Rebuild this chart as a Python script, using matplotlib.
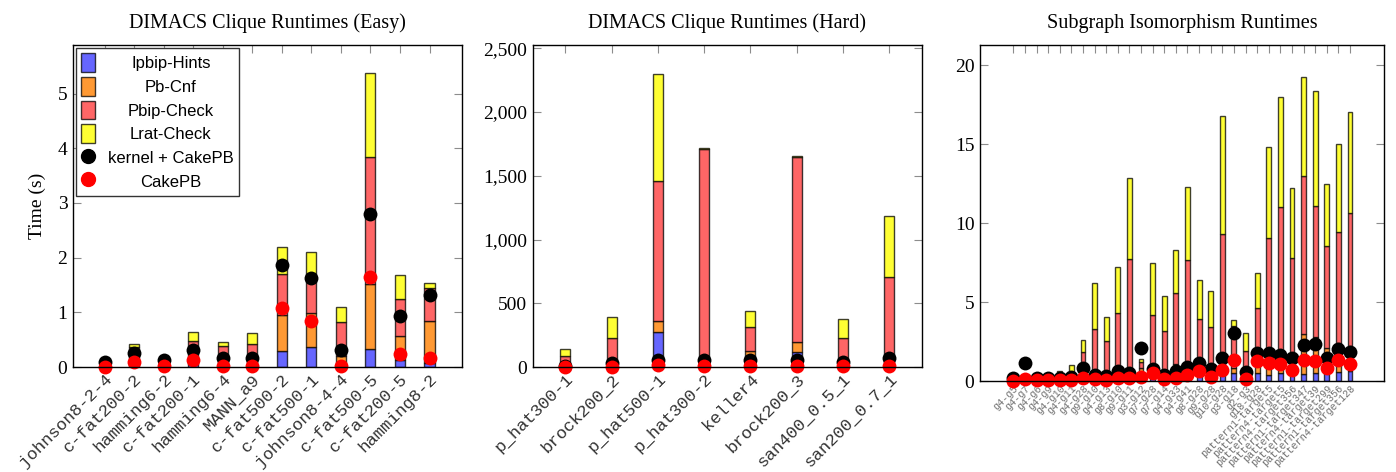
import matplotlib
matplotlib.use("Agg")
import matplotlib.pyplot as plt
import numpy as np
from matplotlib.lines import Line2D
from matplotlib.patches import Patch
from matplotlib.ticker import FuncFormatter

# ---------------- data ----------------
easy_names = ["johnson8-2-4", "c-fat200-2", "hamming6-2", "c-fat200-1", "hamming6-4", "MANN_a9",
              "c-fat500-2", "c-fat500-1", "johnson8-4-4", "c-fat500-5", "c-fat200-5", "hamming8-2"]
easy_hints = [0.005, 0.03, 0.005, 0.05, 0.02, 0.03, 0.29, 0.37, 0.02, 0.335, 0.13, 0.08]
easy_pbcnf = [0.005, 0.06, 0.005, 0.08, 0.05, 0.06, 0.667, 0.61, 0.18, 1.185, 0.43, 0.76]
easy_pbip = [0.01, 0.27, 0.01, 0.35, 0.31, 0.33, 0.743, 0.71, 0.62, 2.33, 0.68, 0.60]
easy_lrat = [0.01, 0.06, 0.01, 0.16, 0.08, 0.20, 0.495, 0.41, 0.27, 1.52, 0.45, 0.09]
easy_kernel = [0.09, 0.26, 0.12, 0.32, 0.16, 0.17, 1.87, 1.62, 0.32, 2.80, 0.94, 1.32]
easy_cake = [0.0, 0.10, 0.01, 0.13, 0.01, 0.01, 1.08, 0.85, 0.02, 1.64, 0.24, 0.17]

hard_names = ["p_hat300-1", "brock200_2", "p_hat500-1", "p_hat300-2", "keller4", "brock200_3",
              "san400_0.5_1", "san200_0.7_1"]
hard_hints = [3, 5, 277, 30, 78, 120, 5, 10]
hard_pbcnf = [3, 5, 86, 40, 50, 76, 5, 10]
hard_pbip = [78, 220, 1097, 1641, 188, 1455, 220, 683]
hard_lrat = [57, 162, 841, 4, 120, 4, 146, 483]
hard_kernel = [8, 28, 55, 55, 52, 55, 42, 68]
hard_cake = [2, 3, 15, 5, 5, 8, 4, 4]

sub_names = ["g4-g5", "g4-g7", "g4-g6", "g4-g9", "g4-g10", "g4-g11", "g4-g28", "g9-g10", "g4-g13",
             "g8-g10", "g9-g11", "g3-g12", "g7-g28", "g7-g14", "g4-g33", "g4-g41", "g8-g28", "g9-g28",
             "g10-g28", "g3-g18", "g2-g3", "g18-g28", "pattern1-target5", "pattern4-target5",
             "pattern4-target356", "pattern1-target347", "pattern4-target39", "pattern1-target299",
             "pattern1-target356", "pattern4-target128"]
sub_hints = [0.01, 0.01, 0.01, 0.01, 0.05, 0.08, 0.1, 0.1, 0.1, 0.15, 0.15, 0.6, 0.2, 0.1, 0.3,
             0.25, 0.3, 0.3, 0.4, 0.53, 0.1, 0.5, 0.35, 0.5, 0.4, 0.45, 0.5, 0.5, 0.6, 0.65]
sub_pbcnf = [0.01, 0.01, 0.01, 0.01, 0.05, 0.1, 0.2, 0.2, 0.2, 0.3, 0.3, 0.25, 0.4, 0.2, 0.8,
             0.6, 0.7, 0.4, 0.6, 0.3, 0.3, 0.9, 0.5, 1.0, 0.8, 2.52, 2.3, 1.57, 1.8, 1.55]
sub_pbip = [0.02, 0.02, 0.02, 0.02, 0.40, 0.42, 1.51, 2.99, 2.21, 3.83, 7.25, 0.37, 3.58, 2.89,
            4.49, 6.79, 2.95, 2.74, 8.28, 2.65, 1.52, 3.2, 8.18, 9.5, 6.6, 10.0, 8.3, 6.47, 7.03, 8.41]
sub_lrat = [0.01, 0.01, 0.01, 0.01, 0.13, 0.41, 0.79, 2.89, 1.52, 2.96, 5.13, 0.15, 3.31, 2.19,
            2.72, 4.66, 2.44, 2.28, 7.52, 0.38, 1.10, 2.26, 5.80, 7.0, 4.44, 6.29, 7.28, 3.96, 5.57, 6.39]
sub_kernel = [0.17, 1.12, 0.20, 0.17, 0.20, 0.27, 0.80, 0.38, 0.34, 0.65, 0.48, 2.07, 0.74, 0.38,
              0.65, 0.91, 1.12, 0.74, 1.43, 3.06, 0.59, 1.79, 1.75, 1.65, 1.43, 2.28, 2.32, 1.43,
              2.00, 1.86]
sub_cake = [0.0, 0.10, 0.06, 0.06, 0.05, 0.05, 0.17, 0.12, 0.06, 0.21, 0.21, 0.27, 0.49, 0.13,
            0.17, 0.38, 0.63, 0.27, 0.70, 1.33, 0.10, 1.27, 1.12, 1.08, 0.70, 1.33, 1.27, 0.80,
            1.33, 1.08]

# ---------------- style ----------------
C_BLUE = "#6666ff"
C_ORANGE = "#ff9933"
C_RED = "#ff6666"
C_YELLOW = "#ffff33"
EDGE = (0, 0, 0, 0.75)
TICKGRAY = "#8c8c8c"
SERIF = ["Liberation Serif", "DejaVu Serif"]
MONO = ["Liberation Mono", "DejaVu Sans Mono"]
SANS = ["Liberation Sans", "DejaVu Sans"]

W, H = 1396, 472
fig = plt.figure(figsize=(W / 100, H / 100), dpi=100)


def px_axes(l, t, r, b):
    return fig.add_axes([l / W, (H - b) / H, (r - l) / W, (b - t) / H])


def draw_panel(ax, names, hints, pbcnf, pbip, lrat, kernel, cake, width, xlim, ylim, yticks,
               title, xfs, xcolor, msize, xpad=3, fmt=None):
    x = np.arange(len(names))
    hints = np.array(hints, float)
    pbcnf = np.array(pbcnf, float)
    pbip = np.array(pbip, float)
    lrat = np.array(lrat, float)
    b1 = hints
    b2 = b1 + pbcnf
    b3 = b2 + pbip
    kw = dict(width=width, edgecolor=EDGE, linewidth=1.0, zorder=2)
    ax.bar(x, hints, color=C_BLUE, **kw)
    ax.bar(x, pbcnf, bottom=b1, color=C_ORANGE, **kw)
    ax.bar(x, pbip, bottom=b2, color=C_RED, **kw)
    ax.bar(x, lrat, bottom=b3, color=C_YELLOW, **kw)
    ax.scatter(x, kernel, s=msize, color="black", zorder=4, clip_on=False, linewidths=0)
    ax.scatter(x, cake, s=msize, color="#ff0000", zorder=5, clip_on=False, linewidths=0)
    ax.set_xlim(*xlim)
    ax.set_ylim(*ylim)
    ax.set_yticks(yticks)
    if fmt:
        ax.yaxis.set_major_formatter(FuncFormatter(fmt))
    ax.set_xticks(x)
    ax.set_xticklabels(names, rotation=45, ha="right", rotation_mode="anchor",
                       family=MONO, fontsize=xfs, color=xcolor)
    ax.tick_params(axis="x", which="both", bottom=False, top=True, direction="in",
                   length=6, color=TICKGRAY, pad=xpad)
    ax.tick_params(axis="y", which="both", left=True, right=True, direction="in",
                   length=6, color=TICKGRAY, labelsize=14, pad=4)
    for lab in ax.get_yticklabels():
        lab.set_family(SERIF)
    for s in ax.spines.values():
        s.set_linewidth(1.0)
        s.set_color("black")
        s.set_zorder(6)
    ax.set_title(title, family=SERIF, fontsize=14.5, pad=12)


MS = 100

ax1 = px_axes(73, 45, 462, 367)
draw_panel(ax1, easy_names, easy_hints, easy_pbcnf, easy_pbip, easy_lrat, easy_kernel, easy_cake,
           0.34, (-1.07, 12.1), (0, 5.89), [0, 1, 2, 3, 4, 5],
           "DIMACS Clique Runtimes (Easy)", 12.5, "#333333", MS)
ax1.set_ylabel("Time (s)", family=SERIF, fontsize=14, labelpad=8)

ax2 = px_axes(533, 45, 922, 367)
draw_panel(ax2, hard_names, hard_hints, hard_pbcnf, hard_pbip, hard_lrat, hard_kernel, hard_cake,
           0.216, (-0.7, 7.71), (0, 2526), [0, 500, 1000, 1500, 2000, 2500],
           "DIMACS Clique Runtimes (Hard)", 12.5, "#333333", MS,
           fmt=lambda v, p: f"{int(v):,}")

ax3 = px_axes(980, 45, 1384, 381)
draw_panel(ax3, sub_names, sub_hints, sub_pbcnf, sub_pbip, sub_lrat, sub_kernel, sub_cake,
           0.42, (-2.87, 31.93), (0, 21.27), [0, 5, 10, 15, 20],
           "Subgraph Isomorphism Runtimes", 7.3, "#707070", MS, xpad=1.5)

# ---------------- legend ----------------
handles = [
    Patch(facecolor=C_BLUE, edgecolor=EDGE, linewidth=1.0),
    Patch(facecolor=C_ORANGE, edgecolor=EDGE, linewidth=1.0),
    Patch(facecolor=C_RED, edgecolor=EDGE, linewidth=1.0),
    Patch(facecolor=C_YELLOW, edgecolor=EDGE, linewidth=1.0),
    Line2D([], [], marker="o", color="black", linestyle="", markersize=10),
    Line2D([], [], marker="o", color="#ff0000", linestyle="", markersize=10),
]
labels = ["Ipbip-Hints", "Pb-Cnf", "Pbip-Check", "Lrat-Check", "kernel + CakePB", "CakePB"]
leg = ax1.legend(handles, labels, loc="upper left", bbox_to_anchor=(0.0, 1.0),
                 prop={"family": SANS, "size": 12}, frameon=True, fancybox=False,
                 edgecolor="#333333", framealpha=1.0, borderaxespad=0.2,
                 handlelength=0.8, handleheight=1.35, handletextpad=0.8,
                 labelspacing=0.3, borderpad=0.3)
leg.get_frame().set_linewidth(1.0)
leg.set_zorder(10)

fig.canvas.draw()
renderer = fig.canvas.get_renderer()
texts = leg.get_texts()
widths = [t.get_window_extent(renderer).width for t in texts]
maxw = max(widths)
for t, w in zip(texts, widths):
    t.set_position(((maxw - w) / 2.0, 0))

fig.savefig("out.png", dpi=100)
